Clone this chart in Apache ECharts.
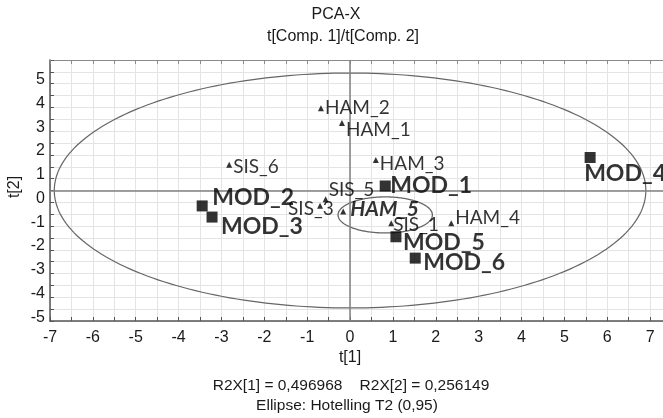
<!DOCTYPE html>
<html>
<head>
<meta charset="utf-8">
<script src="https://cdn.jsdelivr.net/npm/echarts@6/dist/echarts.min.js"></script>
<style>
  html, body { margin: 0; padding: 0; background: #fff; }
  #chart { width: 663px; height: 418px; }
</style>
</head>
<body>
<div id="chart"></div>
<script>
// PCA-X score plot, t[1] vs t[2]

// Model observations (large squares)
const modNames = ['MOD_1', 'MOD_2', 'MOD_3', 'MOD_4', 'MOD_5', 'MOD_6'];
const modT1 = [0.82, -3.45, -3.22, 5.60, 1.07, 1.52];
const modT2 = [0.19, -0.65, -1.12, 1.39, -1.95, -2.85];

// Reference observations (small triangles)
const refNames = ['HAM_1', 'HAM_2', 'HAM_3', 'HAM_4', 'HAM_5', 'SIS_1', 'SIS_3', 'SIS_5', 'SIS_6'];
const refT1 = [-0.19, -0.68, 0.60, 2.36, -0.16, 0.96, -0.70, -0.57, -2.82];
const refT2 = [2.84, 3.47, 1.29, -1.38, -0.89, -1.38, -0.64, -0.37, 1.08];

// Tick labels
const xTickLabels = [-7, -6, -5, -4, -3, -2, -1, 0, 1, 2, 3, 4, 5, 6, 7];
const yTickLabels = [-5, -4, -3, -2, -1, 0, 1, 2, 3, 4, 5];

// Explained variance and Hotelling T2 ellipse
const r2x = ['0,496968', '0,256149'];
const hotellingLevel = '0,95';
const hotellingRadii = [6.9, 4.95];

// Highlight ring around HAM_5
const ringCenter = [0.82, -1.03];
const ringRadii = [1.1, 0.76];

// Label placement: [dx, dy] of the label's left-middle point from the marker centre
const labelShift = {
  MOD_1: [5, 0], MOD_2: [10, -8], MOD_3: [9, 10], MOD_4: [-6, 16], MOD_5: [7, 6], MOD_6: [8, 4],
  HAM_1: [4, 7], HAM_2: [4, 0], HAM_3: [4, 4], HAM_4: [4, -5], HAM_5: [7, -2],
  SIS_1: [2, 2], SIS_3: [-32, 3], SIS_5: [3, -9], SIS_6: [4, 2]
};

const AXIS_FONT = '"Liberation Sans", Arial, sans-serif';
const POINT_FONT = 'Lato, "Open Sans", sans-serif';

function buildPoints(names, t1, t2, size, labelStyle) {
  return names.map((n, i) => {
    const s = labelShift[n] || [4, 0];
    const extra = (n === 'HAM_5') ? { fontStyle: 'italic', fontWeight: 'bold', fontSize: 21 } : {};
    return {
      name: n,
      value: [t1[i], t2[i]],
      label: Object.assign({
        show: true,
        formatter: n,
        position: [size / 2 + s[0], size / 2 + s[1]],
        align: 'left',
        verticalAlign: 'middle'
      }, labelStyle, extra)
    };
  });
}

function ellipseSeries(center, radii, color, width) {
  return {
    type: 'custom',
    silent: true,
    z: 3,
    clip: false,
    data: [center],
    encode: { x: 0, y: 1 },
    renderItem: function (params, api) {
      const pts = [];
      const n = 240;
      for (let i = 0; i <= n; i++) {
        const a = (i / n) * Math.PI * 2;
        pts.push(api.coord([center[0] + radii[0] * Math.cos(a), center[1] + radii[1] * Math.sin(a)]));
      }
      return {
        type: 'polyline',
        shape: { points: pts },
        style: { stroke: color, lineWidth: width, fill: null }
      };
    }
  };
}

const axisColor = '#555555';
const gridColor = '#e4e4e4';

// The plot area runs on past the right edge of the page, so the x range ends just after 7
const xMin = -7, xMax = 7.3;

const chart = echarts.init(document.getElementById('chart'), null, { renderer: 'canvas' });

chart.setOption({
  animation: false,
  backgroundColor: '#ffffff',
  grid: { left: 50, right: 0, top: 60, bottom: 97, containLabel: false },
  xAxis: [
    {
      type: 'value', position: 'bottom', min: xMin, max: xMax, interval: 0.5,
      axisLine: { show: true, onZero: false, lineStyle: { color: axisColor, width: 1.5 } },
      axisTick: { show: true, inside: true, length: 4, lineStyle: { color: axisColor } },
      axisLabel: {
        margin: 9, fontSize: 16, color: '#1a1a1a', fontFamily: AXIS_FONT,
        showMaxLabel: false,
        formatter: v => xTickLabels.indexOf(v) >= 0 ? String(v) : ''
      },
      splitLine: { show: true, lineStyle: { color: gridColor, width: 1 } }
    },
    {
      type: 'value', position: 'top', min: xMin, max: xMax, interval: 0.5,
      axisLine: { show: true, onZero: false, lineStyle: { color: '#8a8a8a', width: 1 } },
      axisTick: { show: true, inside: true, length: 4, lineStyle: { color: '#8a8a8a' } },
      axisLabel: { show: false },
      splitLine: { show: false }
    }
  ],
  yAxis: [
    {
      type: 'value', min: -5.5, max: 5.5, interval: 0.5,
      axisLine: { show: true, onZero: false, lineStyle: { color: axisColor, width: 1.5 } },
      axisTick: { show: true, inside: true, length: 4, lineStyle: { color: axisColor } },
      axisLabel: {
        margin: 5, fontSize: 16, color: '#1a1a1a', fontFamily: AXIS_FONT, verticalAlign: 'top',
        formatter: v => yTickLabels.indexOf(v) >= 0 ? String(v) : ''
      },
      splitLine: { show: true, lineStyle: { color: gridColor, width: 1 } }
    }
  ],
  graphic: [
    { type: 'text', x: 336, y: 15, style: { text: 'PCA-X', font: '16px ' + AXIS_FONT, fill: '#1a1a1a', align: 'center', verticalAlign: 'middle' } },
    { type: 'text', x: 343, y: 37, style: { text: 't[Comp. 1]/t[Comp. 2]', font: '16px ' + AXIS_FONT, fill: '#1a1a1a', align: 'center', verticalAlign: 'middle' } },
    { type: 'text', x: 15, y: 187, rotation: Math.PI / 2, style: { text: 't[2]', font: '16px ' + AXIS_FONT, fill: '#1a1a1a', align: 'center', verticalAlign: 'middle' } },
    { type: 'text', x: 350, y: 358, style: { text: 't[1]', font: '16px ' + AXIS_FONT, fill: '#1a1a1a', align: 'center', verticalAlign: 'middle' } },
    { type: 'text', x: 351, y: 386, style: { text: 'R2X[1] = ' + r2x[0] + '    R2X[2] = ' + r2x[1], font: '15.5px ' + AXIS_FONT, fill: '#1a1a1a', align: 'center', verticalAlign: 'middle' } },
    { type: 'text', x: 347, y: 406, style: { text: 'Ellipse: Hotelling T2 (' + hotellingLevel + ')', font: '15.5px ' + AXIS_FONT, fill: '#1a1a1a', align: 'center', verticalAlign: 'middle' } }
  ],
  series: [
    Object.assign(ellipseSeries([0, 0], hotellingRadii, '#666666', 1.2), {
      markLine: {
        silent: true, symbol: 'none', label: { show: false },
        lineStyle: { color: '#808080', width: 1.5, type: 'solid' },
        data: [{ xAxis: 0 }, { yAxis: 0 }]
      }
    }),
    ellipseSeries(ringCenter, ringRadii, '#666666', 1.3),
    {
      type: 'scatter', z: 5,
      symbol: 'triangle', symbolSize: 6,
      itemStyle: { color: '#000' },
      data: buildPoints(refNames, refT1, refT2, 6, { fontSize: 19, color: '#000', fontFamily: POINT_FONT })
    },
    {
      type: 'scatter', z: 6,
      symbol: 'rect', symbolSize: 11,
      itemStyle: { color: '#000' },
      data: buildPoints(modNames, modT1, modT2, 11, { fontSize: 23, fontWeight: 'bold', color: '#000', fontFamily: POINT_FONT })
    }
  ]
});
</script>
</body>
</html>
